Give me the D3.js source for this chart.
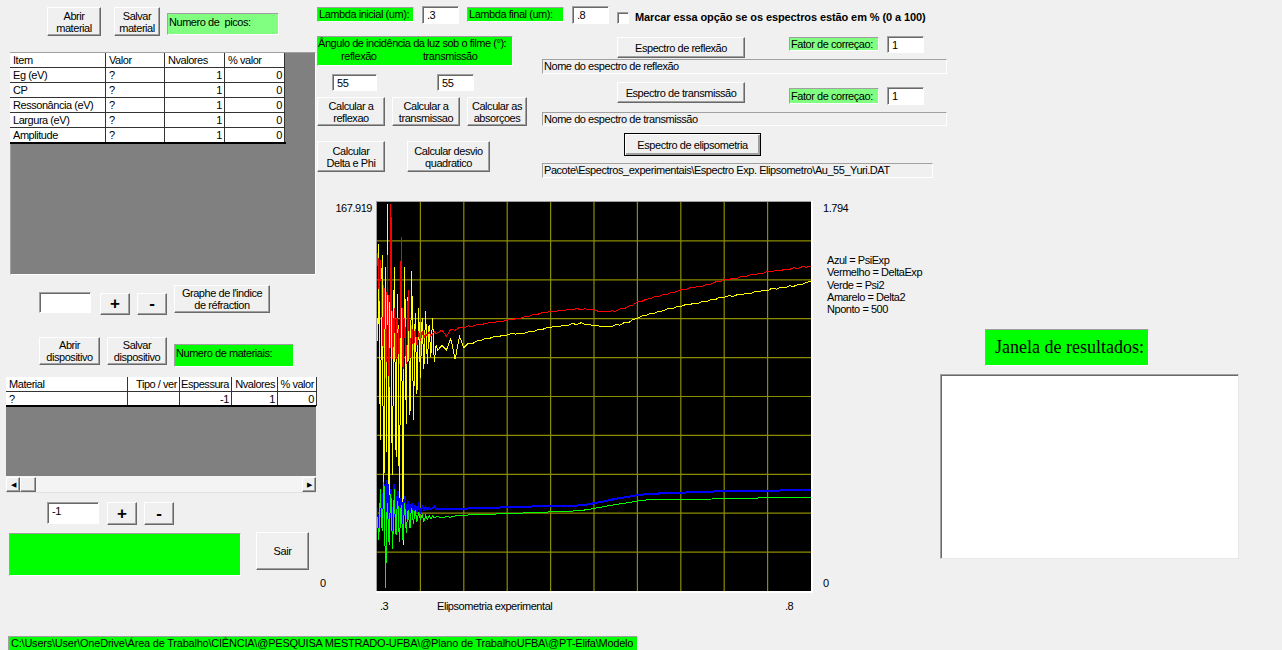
<!DOCTYPE html>
<html><head><meta charset="utf-8">
<script src="https://cdn.jsdelivr.net/npm/d3@7"></script>
<style>
html,body{margin:0;padding:0;background:#f0f0f0;overflow:hidden}
#app{position:relative;width:1282px;height:650px;font-family:"Liberation Sans",Arial,sans-serif;font-size:11px;letter-spacing:-0.45px;color:#000;overflow:hidden}
.a{position:absolute;box-sizing:border-box;white-space:nowrap}
.btn{background:#f0f0f0;border:1px solid;border-color:#fff #696969 #696969 #fff;box-shadow:inset -1px -1px 0 #a0a0a0;display:flex;align-items:center;justify-content:center;text-align:center;line-height:12px}
.inp{background:#fff;border:1px solid;border-color:#a0a0a0 #fff #fff #a0a0a0;box-shadow:inset 1px 1px 0 #696969;padding:2px 0 0 4px;line-height:13px}
.gl{background:#00ff00;border:1px solid;border-color:#a0a0a0 #fff #fff #a0a0a0;padding:0 0 0 1px;line-height:13px}
.lg{background:#80ff80;border:1px solid;border-color:#a0a0a0 #fff #fff #a0a0a0;padding:0 0 0 1px;line-height:13px}
.sk{background:#f0f0f0;border:1px solid;border-color:#a0a0a0 #fff #fff #a0a0a0;padding:0 0 0 1px;line-height:13px}
.pm{font-size:17px;font-weight:bold;letter-spacing:0}
#chart{position:absolute;left:0;top:0}
</style></head>
<body>
<div id="app">
<svg id="chart" width="1282" height="650"></svg>

<div class="a btn" style="left:47px;top:7px;width:54px;height:29px">Abrir<br>material</div>
<div class="a btn" style="left:114px;top:7px;width:46px;height:29px">Salvar<br>material</div>
<div class="a lg" style="left:167px;top:13px;width:112px;height:22px;padding-top:2px">Numero de&nbsp; picos:</div>
<div class="a" style="left:10px;top:52px;width:306px;height:223px;background:#808080;border:1px solid;border-color:#a0a0a0 #fff #fff #a0a0a0"></div>
<div id="t1"></div>

<div class="a gl" style="left:317px;top:7px;width:97px;height:15px">Lambda inicial (um):</div>
<div class="a inp" style="left:422px;top:6px;width:37px;height:18px">.3</div>
<div class="a gl" style="left:467px;top:7px;width:97px;height:15px">Lambda final (um):</div>
<div class="a inp" style="left:572px;top:6px;width:37px;height:18px">.8</div>
<div class="a" style="left:617px;top:12px;width:12px;height:12px;background:#fff;border:1px solid;border-color:#a0a0a0 #fff #fff #a0a0a0;box-shadow:inset 1px 1px 0 #696969"></div>
<div class="a" style="left:635px;top:11px;font-weight:bold;letter-spacing:-0.1px">Marcar essa opção se os espectros estão em % (0 a 100)</div>

<div class="a gl" style="left:317px;top:36px;width:196px;height:30px"></div>
<div class="a" style="left:318px;top:37px">Ângulo de incidência da luz sob o filme (°):</div>
<div class="a" style="left:341px;top:50px">reflexão</div>
<div class="a" style="left:423px;top:50px">transmissão</div>
<div class="a inp" style="left:332px;top:74px;width:45px;height:17px">55</div>
<div class="a inp" style="left:437px;top:74px;width:37px;height:17px">55</div>
<div class="a btn" style="left:317px;top:97px;width:68px;height:29px">Calcular a<br>reflexao</div>
<div class="a btn" style="left:392px;top:97px;width:68px;height:29px">Calcular a<br>transmissao</div>
<div class="a btn" style="left:467px;top:97px;width:60px;height:29px">Calcular as<br>absorçoes</div>
<div class="a btn" style="left:317px;top:141px;width:68px;height:31px">Calcular<br>Delta e Phi</div>
<div class="a btn" style="left:407px;top:141px;width:83px;height:31px">Calcular desvio<br>quadratico</div>

<div class="a btn" style="left:617px;top:37px;width:128px;height:21px">Espectro de reflexão</div>
<div class="a lg" style="left:789px;top:37px;width:90px;height:14px">Fator de correçao:</div>
<div class="a inp" style="left:887px;top:36px;width:37px;height:17px">1</div>
<div class="a sk" style="left:542px;top:59px;width:405px;height:15px">Nome do espectro de reflexão</div>
<div class="a btn" style="left:617px;top:82px;width:128px;height:21px">Espectro de transmissão</div>
<div class="a lg" style="left:789px;top:88px;width:90px;height:16px;padding-top:1px">Fator de correçao:</div>
<div class="a inp" style="left:887px;top:87px;width:37px;height:18px">1</div>
<div class="a sk" style="left:542px;top:112px;width:405px;height:14px">Nome do espectro de transmissão</div>
<div class="a btn" style="left:624px;top:133px;width:137px;height:23px;border-color:#000;box-shadow:inset 1px 1px 0 #fff,inset -2px -2px 0 #a0a0a0">Espectro de elipsometria</div>
<div class="a sk" style="left:542px;top:163px;width:391px;height:15px">Pacote\Espectros_experimentais\Espectro Exp. Elipsometro\Au_55_Yuri.DAT</div>

<div class="a inp" style="left:39px;top:292px;width:52px;height:21px"></div>
<div class="a btn pm" style="left:100px;top:293px;width:30px;height:22px">+</div>
<div class="a btn pm" style="left:137px;top:293px;width:30px;height:22px">-</div>
<div class="a btn" style="left:174px;top:285px;width:96px;height:28px">Graphe de l'indice<br>de réfraction</div>
<div class="a btn" style="left:39px;top:337px;width:61px;height:28px">Abrir<br>dispositivo</div>
<div class="a btn" style="left:107px;top:337px;width:60px;height:28px">Salvar<br>dispositivo</div>
<div class="a gl" style="left:174px;top:344px;width:120px;height:23px;padding-top:2px">Numero de materiais:</div>

<div class="a" style="left:6px;top:406px;width:310px;height:70px;background:#808080"></div>
<div id="t2"></div>
<div class="a" style="left:6px;top:476px;width:310px;height:17px;background:#f4f4f4;border-bottom:1px solid #e0e0e0"></div>
<div class="a btn" style="left:6px;top:477px;width:14px;height:15px;font-size:7px">&#9664;</div>
<div class="a btn" style="left:20px;top:477px;width:16px;height:15px"></div>
<div class="a btn" style="left:302px;top:477px;width:14px;height:15px;font-size:7px">&#9654;</div>

<div class="a inp" style="left:47px;top:502px;width:52px;height:22px">-1</div>
<div class="a btn pm" style="left:107px;top:502px;width:30px;height:23px">+</div>
<div class="a btn pm" style="left:144px;top:502px;width:30px;height:23px">-</div>
<div class="a gl" style="left:9px;top:533px;width:232px;height:43px"></div>
<div class="a btn" style="left:256px;top:532px;width:53px;height:38px">Sair</div>
<div class="a gl" style="left:8px;top:636px;width:630px;height:15px;padding-left:2px;letter-spacing:-0.22px">C:\Users\User\OneDrive\Área de Trabalho\CIÊNCIA\@PESQUISA MESTRADO-UFBA\@Plano de TrabalhoUFBA\@PT-Elifa\Modelo</div>

<div class="a gl" style="left:985px;top:329px;width:164px;height:37px;font-family:'Liberation Serif','DejaVu Serif',serif;font-size:18px;letter-spacing:0;line-height:34px;padding-left:9px">Janela de resultados:</div>
<div class="a" style="left:940px;top:374px;width:299px;height:185px;background:#fff;border:1px solid;border-color:#a0a0a0 #e8e8e8 #e8e8e8 #a0a0a0;box-shadow:inset 1px 1px 0 #696969"></div>
</div>

<script>
// ---------- DATA ----------
const lambda = [
.300,.301,.302,.303,.304,.305,.306,.307,.308,.309,
.310,.311,.312,.313,.314,.315,.316,.317,.318,.319,
.320,.321,.322,.323,.324,.325,.326,.327,.328,.329,
.330,.331,.332,.333,.334,.335,.336,.337,.338,.339,
.340,.342,.344,.346,.348,.350,.352,.354,.356,.358,
.360,.362,.364,.366,.368,
.370,.375,.380,.385,.390,.395,.400,.405,.410,.415,
.420,.425,.430,.435,.440,.445,.450,.455,.460,.465,
.470,.475,.480,.485,.490,.495,.500,.505,.510,.515,
.520,.525,.530,.535,.540,.545,.550,.555,.560,.565,
.570,.575,.580,.585,.590,.595,.600,.605,.610,.615,
.620,.625,.630,.635,.640,.645,.650,.655,.660,.665,
.670,.675,.680,.685,.690,.695,.700,.705,.710,.715,
.720,.725,.730,.735,.740,.745,.750,.755,.760,.765,
.770,.775,.780,.785,.790,.795,.800];

// Vermelho = DeltaExp
const deltaExp = [
140,146,133,125,143,130,115,105,132,120,
92,110,145,120,88,105,167,130,100,112,
122,108,100,118,115,105,98,120,153,115,
96,108,118,104,98,112,130,110,100,108,
115,104,113,106,112,108,112,109,111,110,
112,110,111,112,111,
111.5,112.6,110,113.0,112.5,113.8,113.6,114.4,114.3,114.9,
115.2,115.3,115.9,115.9,116.5,116.4,117.0,117.0,117.6,117.6,
118.4,118.5,119.3,119.4,120.2,120.1,120.8,120.6,121.2,121.0,
121.6,121.3,121.9,121.5,121.8,121.3,121.5,120.7,120.8,120.4,
120.9,120.8,121.8,121.9,123.0,123.5,124.8,125.0,126.0,126.1,
127.1,127.1,128.0,128.1,129.0,129.1,130.0,130.0,130.8,130.8,
131.6,131.6,132.5,132.5,133.4,133.4,134.3,134.3,135.1,135.0,
135.8,135.8,136.5,136.5,137.2,137.2,138.0,137.8,138.5,138.3,
138.9,138.8,139.5,139.3,140.0,139.8,140.3];

// Amarelo = Delta2
const delta2 = [
118,108,150,95,65,120,145,75,45,110,
140,60,167,90,28,125,150,70,50,115,
140,85,58,110,128,62,40,100,135,80,
20,105,140,90,72,118,130,95,76,112,
138,74,120,85,122,92,118,96,121,98,
115,101,118,99,106,
104,106,104,109,100,110,105,106.9,106.8,107.9,
108.2,109.0,109.1,109.9,109.8,110.4,110.5,111.2,110.9,111.3,
111.3,112.0,111.9,112.8,112.8,113.6,113.7,114.4,114.2,114.8,
114.6,115.6,114.9,115.8,115.0,115.1,114.4,114.5,114.0,114.2,
114.1,114.9,114.8,115.9,115.9,117.3,117.6,118.7,118.9,119.8,
119.9,120.8,120.9,121.9,121.8,122.7,122.7,123.6,123.5,124.3,
124.2,125.1,125.0,125.8,125.8,126.9,126.7,127.5,127.2,127.9,
127.8,128.5,128.3,129.2,129.1,129.8,129.6,130.7,130.3,131.0,
130.8,131.8,131.5,132.3,132.3,133.3,133.6];

// Azul = PsiExp
const psiExp = [
36,30,24,34,42,33,28,38,46,35,
26,36,48,32,27,38,44,33,24,35,
46,34,28,38,43,33,30,37,40,33,
28,36,41,34,31,37,39,34,32,36,
38,33,37,34,37,34.5,36.5,35,36.2,35,
36,35.3,35.8,36.5,35.5,
35.6,35.4,35.5,35.3,35.4,35.4,35.5,35.6,35.7,35.7,
35.8,35.9,35.9,36.0,36.0,36.1,36.1,36.2,36.2,36.3,
36.3,36.4,36.5,36.5,36.6,36.6,36.7,36.7,36.7,36.8,
36.8,36.9,36.9,37.0,37.2,37.5,37.9,38.2,38.6,39.0,
39.4,39.8,40.1,40.4,40.7,41.1,41.4,41.6,41.8,41.9,
42.0,42.1,42.1,42.2,42.2,42.4,42.5,42.5,42.6,42.6,
42.7,42.8,42.9,42.9,43.0,43.0,43.0,43.0,43.0,43.1,
43.1,43.1,43.1,43.2,43.2,43.2,43.3,43.3,43.3,43.4,
43.4,43.4,43.4,43.5,43.5,43.5,43.5];

// Verde = Psi2
const psi2 = [
32,28,22,33,44,31,26,36,47,25,
1.5,30,38,28,20,34,42,29,18,32,
44,30,24,35,39,28,21,33,37,27,
22,32,38,29,25,33,35,30,27,33,
36,29,35,30,34,31,33,30,32.5,31,
32.5,31.2,32.3,31.5,32,
32.0,31.8,32.0,31.9,32.4,32.5,32.8,32.8,33.0,33.0,
33.1,33.1,33.2,33.2,33.3,33.3,33.5,33.5,33.6,33.6,
33.7,33.7,33.9,33.9,34.0,34.0,34.2,34.2,34.3,34.3,
34.5,34.5,34.7,34.8,35.0,35.3,35.6,36.0,36.3,36.7,
37.0,37.3,37.6,37.9,38.2,38.5,38.8,39.1,39.3,39.3,
39.3,39.3,39.3,39.4,39.5,39.5,39.6,39.6,39.6,39.6,
39.7,39.7,39.7,39.7,39.8,39.8,39.8,39.8,39.8,39.9,
39.9,39.9,40.0,40.0,40.2,40.4,40.4,40.4,40.4,40.4,
40.4,40.4,40.4,40.4,40.4,40.4,40.4];

const xDomain = [0.3, 0.8];
const yMaxLeft = 167.919;
const yMaxRightLabel = "1.794";
const xTickLabels = [".3", ".8"];
const xTitle = "Elipsometria experimental";
const legendLines = ["Azul = PsiExp", "Vermelho = DeltaExp", "Verde = Psi2", "Amarelo = Delta2", "Nponto =  500"];

// tables
const t1Header = ["Item", "Valor", "Nvalores", "% valor"];
const t1Items = ["Eg (eV)", "CP", "Ressonância (eV)", "Largura (eV)", "Amplitude"];
const t1Valor = ["?", "?", "?", "?", "?"];
const t1N = [1, 1, 1, 1, 1];
const t1Pct = [0, 0, 0, 0, 0];
const t2Header = ["Material", "Tipo / ver", "Espessura", "Nvalores", "% valor"];
const t2Row = ["?", "", "-1", "1", "0"];

// ---------- CHART ----------
const svg = d3.select("#chart");
const P = {l: 377, r: 811, t: 202, b: 591};
const x = d3.scaleLinear().domain(xDomain).range([P.l, P.r]);
const y = d3.scaleLinear().domain([0, yMaxLeft]).range([P.b, P.t]);

svg.append("rect").attr("x", P.l - 1).attr("y", P.t - 1).attr("width", P.r - P.l + 3).attr("height", P.b - P.t + 3)
  .attr("fill", "#fff");
svg.append("rect").attr("x", P.l - 1).attr("y", P.t - 1).attr("width", P.r - P.l + 1).attr("height", P.b - P.t + 1)
  .attr("fill", "#a0a0a0");
svg.append("rect").attr("x", P.l).attr("y", P.t).attr("width", P.r - P.l).attr("height", P.b - P.t).attr("fill", "#000");

svg.append("clipPath").attr("id", "clip").append("rect")
  .attr("x", P.l).attr("y", P.t).attr("width", P.r - P.l).attr("height", P.b - P.t);

const g = svg.append("g").attr("clip-path", "url(#clip)");
const xStep = (xDomain[1] - xDomain[0]) / 10;
const gx = d3.range(1, 10).map(i => xDomain[0] + i * xStep);
const gy = d3.range(1, 10).map(i => i * yMaxLeft / 10);
g.selectAll(".gx").data(gx).join("line")
  .attr("x1", d => x(d)).attr("x2", d => x(d)).attr("y1", P.t).attr("y2", P.b)
  .attr("stroke", "#8c8c00").attr("stroke-width", 1.2);
g.selectAll(".gy").data(gy).join("line")
  .attr("y1", d => y(d)).attr("y2", d => y(d)).attr("x1", P.l).attr("x2", P.r)
  .attr("stroke", "#8c8c00").attr("stroke-width", 1.2);

const series = [
  {v: delta2, c: "#ffff00", w: 1},
  {v: deltaExp, c: "#ff0000", w: 1},
  {v: psiExp, c: "#0000ff", w: 2},
  {v: psi2, c: "#00ff00", w: 1}
];
const line = d3.line().x(d => x(d[0])).y(d => y(d[1]));
series.forEach(s => {
  g.append("path").datum(lambda.map((l, i) => [l, s.v[i]]))
    .attr("d", line).attr("fill", "none").attr("stroke", s.c).attr("stroke-width", s.w)
    .attr("shape-rendering", "crispEdges");
});

const font = '"Liberation Sans", Arial, sans-serif';
const txt = (t, xx, yy, anchor) => svg.append("text").attr("x", xx).attr("y", yy)
  .attr("text-anchor", anchor || "start").attr("font-family", font).attr("font-size", 11)
  .attr("letter-spacing", -0.45).attr("fill", "#000").text(t);
txt(d3.format(".3f")(yMaxLeft), P.l - 5, 212, "end");
txt("0", 320, 587);
txt(yMaxRightLabel, 823, 212);
txt("0", 823, 587);
txt(xTickLabels[0], x(xDomain[0]) + 3, 610);
txt(xTickLabels[1], x(xDomain[1]) - 26, 610);
txt(xTitle, 437, 610);
legendLines.forEach((t, i) => txt(t, 827, 264 + i * 12.3));

// ---------- TABLES ----------
function cell(parent, l, t, w, h, text, align) {
  parent.append("div").attr("class", "a")
    .style("left", l + "px").style("top", t + "px").style("width", w + "px").style("height", h + "px")
    .style("background", "#fff")
    .style("border-right", "1px solid #333").style("border-bottom", "1px solid #333")
    .style("padding", align === "right" ? "1px 2px 0 0" : "1px 0 0 3px")
    .style("text-align", align || "left").style("line-height", "13px")
    .text(text);
}
const t1 = d3.select("#t1");
const c1 = [10, 106, 165, 225, 285];
const r1 = [53, 68, 83, 98, 113, 128, 143];
t1Header.forEach((h, j) => cell(t1, c1[j], r1[0], c1[j + 1] - c1[j], r1[1] - r1[0], h, "left"));
t1Items.forEach((it, i) => {
  const t = r1[i + 1], h = r1[i + 2] - r1[i + 1];
  cell(t1, c1[0], t, c1[1] - c1[0], h, it, "left");
  cell(t1, c1[1], t, c1[2] - c1[1], h, t1Valor[i], "left");
  cell(t1, c1[2], t, c1[3] - c1[2], h, t1N[i], "right");
  cell(t1, c1[3], t, c1[4] - c1[3], h, t1Pct[i], "right");
});
t1.append("div").attr("class", "a").style("left", "10px").style("top", "142px").style("width", "276px").style("height", "2px").style("background", "#000");

const t2 = d3.select("#t2");
const c2 = [6, 128, 180, 232, 278, 317];
const r2 = [377, 392, 406];
t2Header.forEach((h, j) => cell(t2, c2[j], r2[0], c2[j + 1] - c2[j], r2[1] - r2[0], h, j === 0 ? "left" : "right"));
t2Row.forEach((v, j) => cell(t2, c2[j], r2[1], c2[j + 1] - c2[j], r2[2] - r2[1], v, j === 0 ? "left" : "right"));
t2.append("div").attr("class", "a").style("left", "6px").style("top", "405px").style("width", "310px").style("height", "2px").style("background", "#000");
</script>
</body></html>
